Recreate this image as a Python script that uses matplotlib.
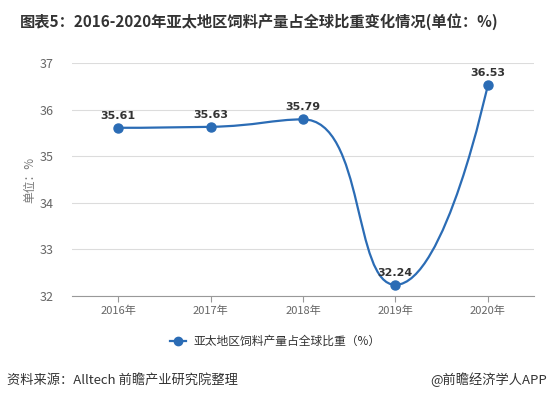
import matplotlib
matplotlib.use("Agg")
import matplotlib.pyplot as plt
from matplotlib.path import Path
from matplotlib.patches import PathPatch
from matplotlib.lines import Line2D
import numpy as np

plt.rcParams['font.family'] = ['Noto Sans CJK SC', 'DejaVu Sans']

categories = ["2016年", "2017年", "2018年", "2019年", "2020年"]
values = [35.61, 35.63, 35.79, 32.24, 36.53]
yticks = [32, 33, 34, 35, 36, 37]
series_name = "亚太地区饲料产量占全球比重（%）"
title = "图表5：2016-2020年亚太地区饲料产量占全球比重变化情况(单位：%)"
ylabel = "单位：%"
source = "资料来源：Alltech 前瞻产业研究院整理"
brand = "@前瞻经济学人APP"

W, H = 551, 399
fig = plt.figure(figsize=(W / 100, H / 100), dpi=100)
ax = fig.add_axes([72 / W, 103 / H, 462 / W, 233 / H])

color = "#2B6CB5"
x = np.arange(len(categories))
y = np.array(values, dtype=float)

ax.set_xlim(-0.5, len(categories) - 0.5)
ax.set_ylim(32, 37)


def clamp(v, a, b):
    return min(max(v, min(a, b)), max(a, b))


# echarts-like constrained bezier smoothing, in pixel-scaled space
sx = 462 / 5.0
sy = 233 / 5.0
px = list(x * sx)
py = list(y * sy)
smooth = 0.5
n = len(px)
segs = []
cpx0, cpy0 = px[0], py[0]
for i in range(n - 1):
    xi, yi = px[i], py[i]
    nx, ny = px[i + 1], py[i + 1]
    if i + 1 == n - 1:
        segs.append(((cpx0, cpy0), (nx, ny), (nx, ny)))
        break
    cx, cy = nx, ny
    prx, pry = xi, yi
    nnx, nny = px[i + 2], py[i + 2]
    vx, vy = nnx - prx, nny - pry
    lp = np.hypot(cx - prx, cy - pry)
    ln = np.hypot(nnx - cx, nny - cy)
    r = ln / (ln + lp)
    n0x = cx + vx * smooth * r
    n0y = cy + vy * smooth * r
    n0x = clamp(n0x, nnx, cx)
    n0y = clamp(n0y, nny, cy)
    vx, vy = n0x - cx, n0y - cy
    c1x = cx - vx * lp / ln
    c1y = cy - vy * lp / ln
    c1x = clamp(c1x, prx, cx)
    c1y = clamp(c1y, pry, cy)
    vx, vy = cx - c1x, cy - c1y
    n0x = cx + vx * ln / lp
    n0y = cy + vy * ln / lp
    segs.append(((cpx0, cpy0), (c1x, c1y), (cx, cy)))
    cpx0, cpy0 = n0x, n0y

verts = [(x[0], y[0])]
codes = [Path.MOVETO]
for (a, b, c) in segs:
    verts += [(a[0] / sx, a[1] / sy), (b[0] / sx, b[1] / sy), (c[0] / sx, c[1] / sy)]
    codes += [Path.CURVE4] * 3
patch = PathPatch(Path(verts, codes), facecolor="none", edgecolor=color, lw=1.6,
                  zorder=3, clip_on=False)
ax.add_patch(patch)
ax.plot(x, y, "o", color=color, markersize=6.5, zorder=4, clip_on=False)

for xi, yi in zip(x, y):
    ax.annotate(f"{yi:.2f}", (xi, yi), xytext=(0, 5), textcoords="offset points",
                ha="center", va="bottom", fontsize=8, fontweight="bold",
                color="#333333", family="DejaVu Sans")

ax.set_yticks(yticks)
ax.set_xticks(x)
ax.set_xticklabels(categories)
ax.grid(axis="y", color="#DCDCDC", lw=0.8)
ax.set_axisbelow(True)
for s in ["top", "right", "left"]:
    ax.spines[s].set_visible(False)
ax.spines["bottom"].set_color("#999999")
ax.spines["bottom"].set_linewidth(0.8)
ax.tick_params(axis="y", length=0, pad=13, labelsize=9, labelcolor="#666666")
ax.tick_params(axis="x", length=4, color="#999999", pad=3, labelsize=8, labelcolor="#666666")

fig.text(30 / W, 1 - 180 / H, ylabel, rotation=90, ha="center", va="center",
         fontsize=8.5, color="#777777")

fig.text(20 / W, 1 - 22 / H, title, ha="left", va="center", fontsize=11,
         fontweight="bold", color="#333333")

# legend
ly = 1 - 341 / H
fig.add_artist(Line2D([170 / W, 186 / W], [ly, ly], color=color, lw=1.6,
                      transform=fig.transFigure))
fig.add_artist(Line2D([178 / W], [ly], color=color, marker="o", markersize=6,
                      transform=fig.transFigure))
fig.text(193 / W, ly, series_name, ha="left", va="center", fontsize=8.5,
         color="#333333")

fig.text(7 / W, 1 - 380 / H, source, ha="left", va="center", fontsize=9.5,
         color="#333333")
fig.text(547 / W, 1 - 380 / H, brand, ha="right", va="center", fontsize=9.5,
         color="#333333")

fig.savefig("out.png", dpi=100)
